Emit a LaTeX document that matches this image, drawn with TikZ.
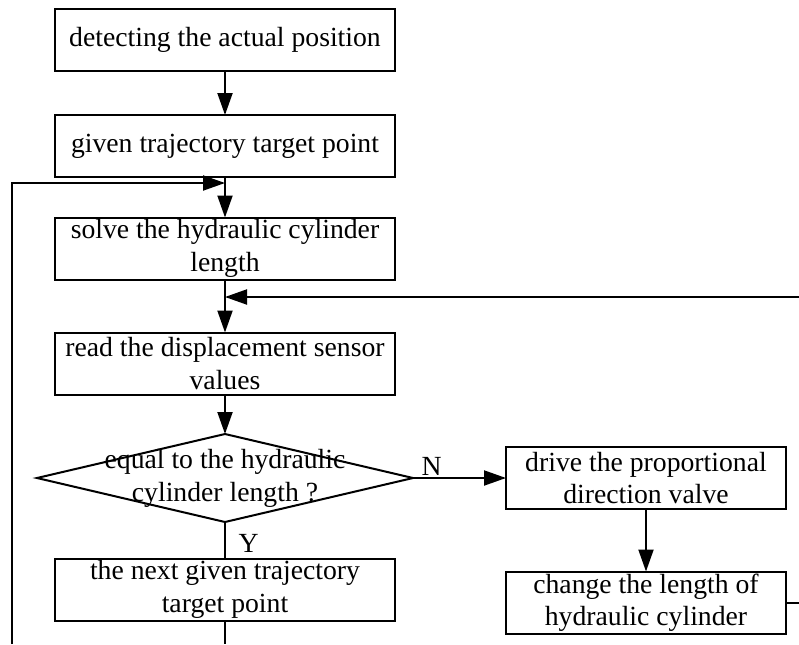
\documentclass[tikz,border=0pt]{standalone}
\usepackage{fontspec}
\setmainfont{Liberation Serif}
\usetikzlibrary{positioning, shapes.geometric, arrows.meta}

\begin{document}
\begin{tikzpicture}[x=0.5pt, y=-0.5pt, line width=1pt, >={Triangle[length=11pt, width=7.5pt]},
  every node/.style = {font=\fontsize{13.85pt}{16.4pt}\selectfont},
  main/.style = {draw, rectangle, outer sep=0pt, inner sep=1pt, minimum width=170pt, minimum height=31pt, align=center},
  side/.style = {main, minimum width=140pt},
  test/.style = {draw, diamond, outer sep=0pt, inner sep=0pt, minimum width=188pt, minimum height=44pt}]
\useasboundingbox (0,0) rectangle (799,644);
\node[main] (1) at (225,39.5) {detecting the actual position};
\node[main] (2) [below=22.25pt of 1] {given trajectory target point};
\node[main] (3) [below=20.25pt of 2] {solve the hydraulic cylinder\\length};
\node[main] (4) [below=26.5pt of 3] {read the displacement sensor\\values};
\node[test, label={[align=center]center:equal to the hydraulic\\cylinder length ?}] (5) [below=19.75pt of 4] {};
\node[main] (6) [below=18.25pt of 5] {the next given trajectory\\target point};
\node[side] (7) [right=46.5pt of 5] {drive the proportional\\direction valve};
\node[side] (8) [below=31.25pt of 7] {change the length of\\hydraulic cylinder};
\coordinate (j1) at (225,183);
\coordinate (j2) at (225,297);
\coordinate (r1) at (799,297);
\coordinate (r2) at (799,602);
\coordinate (b1) at (225,644);
\coordinate (b2) at (12,644);
\draw[->] (1) -- (2);
\draw[->] (2) -- (3);
\draw[->] (3) -- (4);
\draw[->] (4) -- (5);
\draw[->] (5) -- node[pos=0.2, above, inner sep=1pt] {N} (7);
\draw (5) -- node[pos=0.6, right, xshift=3pt] {Y} (6);
\draw[->] (7) -- (8);
\draw (8.east) -- (8.east -| r2);
\draw[->] (r1) -- (j2);
\draw (6) -- (b1);
\draw[->] (b2) |- (j1);
\end{tikzpicture}
\end{document}
